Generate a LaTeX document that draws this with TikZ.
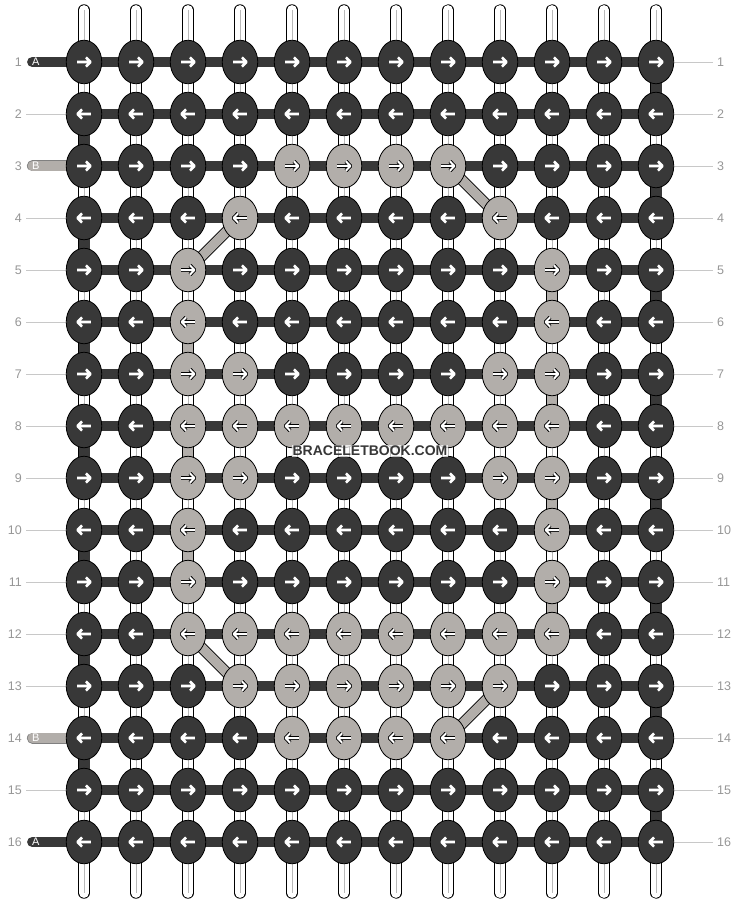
\documentclass[tikz,border=0pt]{standalone}
\usepackage{fontspec}
\setmainfont{Liberation Sans}
\usetikzlibrary{shapes.geometric}
\pgfdeclarelayer{bg}
\pgfsetlayers{bg,main}
\definecolor{cA}{RGB}{56,56,56}
\definecolor{cB}{RGB}{178,174,170}
\definecolor{lbl}{RGB}{150,150,150}
\definecolor{gln}{RGB}{200,200,200}
\definecolor{strc}{RGB}{185,185,185}
\definecolor{wmc}{RGB}{55,55,55}
\begin{document}
\begin{tikzpicture}[x=1pt,y=-1pt,
  dknot/.style={ellipse,draw=black,line width=0.8pt,fill=cA,minimum width=35.5pt,minimum height=43.5pt,inner sep=0pt},
  lknot/.style={dknot,fill=cB},
  hbar/.style={draw=cA,line width=10.7pt},
  dconn/.style={draw=cA,line width=11pt},
  lconn/.style={draw=black,line width=0.8pt,double=cB,double distance=9.4pt},
  lstub/.style={draw=gray,line width=0.8pt,double=cB,double distance=9.4pt,line cap=round},
  dstub/.style={draw=cA,line width=10.7pt,line cap=round},
  strout/.style={draw=black,line width=11.4pt,line cap=round},
  strin/.style={draw=white,line width=9.8pt,line cap=round},
  strmid/.style={draw=strc,line width=0.9pt},
  gline/.style={draw=gln,line width=0.9pt},
  numl/.style={text=lbl,font=\fontsize{12.5}{14}\selectfont,inner sep=0pt},
  stubtxt/.style={text=white,font=\fontsize{11}{12}\selectfont,inner sep=0pt,anchor=west},
  arrd/.pic={\draw[white,line width=2.6pt,line join=round] (-6.8,0) -- (6.3,0) (2,-4.6) -- (6.5,0) -- (2,4.6);},
  arrl/.pic={\draw[black,line width=3.8pt,line join=round] (-6.8,0) -- (6.3,0) (2,-4.6) -- (6.5,0) -- (2,4.6);
             \draw[white,line width=2.0pt,line join=round] (-6.8,0) -- (6.3,0) (2,-4.6) -- (6.5,0) -- (2,4.6);}
]
\useasboundingbox (0,0) rectangle (740,904);
% light knots lookup
\foreach \p in {3-5,3-6,3-7,3-8,4-4,4-9,5-3,5-10,6-3,6-10,7-3,7-4,7-9,7-10,
  8-3,8-4,8-5,8-6,8-7,8-8,8-9,8-10,9-3,9-4,9-9,9-10,10-3,10-10,11-3,11-10,
  12-3,12-4,12-5,12-6,12-7,12-8,12-9,12-10,13-4,13-5,13-6,13-7,13-8,13-9,
  14-5,14-6,14-7,14-8}{\expandafter\gdef\csname L\p\endcsname{}}
% knots
\foreach \r in {1,...,16}{
  \foreach \c in {1,...,12}{
    \pgfmathsetmacro\X{84+52*(\c-1)}
    \pgfmathsetmacro\Y{62+52*(\r-1)}
    \pgfmathsetmacro\S{ifthenelse(mod(\r,2)==1,1,-1)}
    \ifcsname L\r-\c\endcsname
      \node[lknot] (k-\r-\c) at (\X,\Y) {};
      \pic[xscale=\S] at (k-\r-\c) {arrl};
    \else
      \node[dknot] (k-\r-\c) at (\X,\Y) {};
      \pic[xscale=\S] at (k-\r-\c) {arrd};
    \fi
  }
}
% coordinates for free ends
\foreach \c in {1,...,12}{
  \pgfmathsetmacro\X{84+52*(\c-1)}
  \coordinate (t-\c) at (\X,10);
  \coordinate (b-\c) at (\X,893);
}
\foreach \r in {1,...,16}{
  \pgfmathsetmacro\Y{62+52*(\r-1)}
  \coordinate (ll-\r) at (26,\Y);
  \coordinate (rl-\r) at (713,\Y);
  \coordinate (s-\r) at (32.4,\Y);
  \node[numl,anchor=east] (nl-\r) at (22,\Y) {\r};
  \node[numl,anchor=west] (nr-\r) at (717,\Y) {\r};
}
\begin{pgfonlayer}{bg}
  % vertical base strings
  \foreach \c in {1,...,12}{
    \draw[strout] (t-\c) -- (b-\c);
    \draw[strin] (t-\c) -- (b-\c);
    \draw[strmid] (t-\c) -- (b-\c);
  }
  % horizontal working rows
  \foreach \r in {1,...,16}{
    \draw[hbar] (k-\r-1.center) -- (k-\r-12.center);
    \draw[gline] (k-\r-12.east) -- (rl-\r);
  }
  % grey guide lines on the left
  \foreach \r in {2,4,5,6,7,8,9,10,11,12,13,15}{
    \draw[gline] (ll-\r) -- (k-\r-1.west);
  }
  % stubs
  \draw[dstub] (s-1) -- (k-1-1.center);
  \draw[dstub] (s-16) -- (k-16-1.center);
  \draw[lstub] (s-3) -- (k-3-1.center);
  \draw[lstub] (s-14) -- (k-14-1.center);
  % edge turns
  \foreach \r in {2,4,6,8,10,12,14}{
    \pgfmathtruncatemacro\n{\r+1}
    \draw[dconn] (k-\r-1.center) -- (k-\n-1.center);
  }
  \foreach \r in {1,3,5,7,9,11,13,15}{
    \pgfmathtruncatemacro\n{\r+1}
    \draw[dconn] (k-\r-12.center) -- (k-\n-12.center);
  }
  % light vertical connectors
  \foreach \r in {6,8,10}{
    \pgfmathtruncatemacro\n{\r+1}
    \draw[lconn] (k-\r-3.center) -- (k-\n-3.center);
  }
  \foreach \r in {5,7,9,11}{
    \pgfmathtruncatemacro\n{\r+1}
    \draw[lconn] (k-\r-10.center) -- (k-\n-10.center);
  }
  % diagonals
  \draw[lconn] (k-4-4.center) -- (k-5-3.center);
  \draw[lconn] (k-3-8.center) -- (k-4-9.center);
  \draw[lconn] (k-12-3.center) -- (k-13-4.center);
  \draw[lconn] (k-13-9.center) -- (k-14-8.center);
\end{pgfonlayer}
% stub letters
\node[stubtxt] (la1) at (32,62) {A};
\node[stubtxt] (lb3) at (32,166) {B};
\node[stubtxt] (lb14) at (32,738) {B};
\node[stubtxt] (la16) at (32,842) {A};
% watermark
\node[font=\bfseries\fontsize{14}{16}\selectfont,text=wmc,fill=white,fill opacity=0.75,text opacity=1,inner sep=1pt] (wm) at (370,451) {BRACELETBOOK.COM};
\end{tikzpicture}
\end{document}
